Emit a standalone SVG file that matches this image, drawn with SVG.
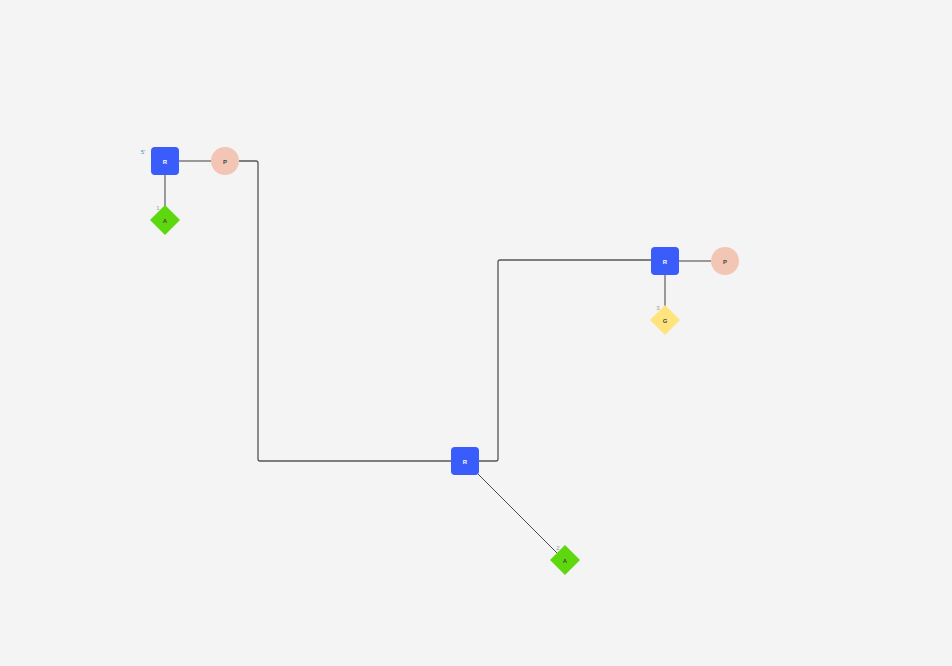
<svg xmlns="http://www.w3.org/2000/svg" width="952" height="666" viewBox="0 0 952 666">
<style>
.bg{fill:#f4f4f4}
.r{fill:#3a5cfb}
.p{fill:#f2c5b5}
.a{fill:#5dd80e}
.g{fill:#ffe47e}
.lbl{font-family:"Liberation Sans",Arial,sans-serif;font-size:6px;font-weight:bold;text-anchor:middle;dominant-baseline:central}
.w{fill:#ffffff}
.d{fill:#444444}
.num{font-family:"Liberation Sans",Arial,sans-serif;font-size:6px;fill:#999999;text-anchor:middle;dominant-baseline:central}
.link{fill:none;stroke:#999999;stroke-width:2}
.path{fill:none;stroke:#555555;stroke-width:1.3}
.diag{fill:none;stroke:#222222;stroke-width:0.8}
</style>
<rect class="bg" x="0" y="0" width="952" height="666"/>
<g id="connectors">
<line class="link" x1="179" y1="161" x2="211" y2="161"/>
<line class="link" x1="165" y1="175" x2="165" y2="206"/>
<line class="link" x1="679" y1="261" x2="711" y2="261"/>
<line class="link" x1="665" y1="275" x2="665" y2="306"/>
<path class="path" d="M239,161 H256 Q258,161 258,163 V459 Q258,461 260,461 H451"/>
<path class="path" d="M479,461 H496 Q498,461 498,459 V262 Q498,260 500,260 H651"/>
<line class="diag" x1="477" y1="473" x2="557" y2="553"/>
</g>
<g id="r1">
<rect class="r" x="151" y="147" width="28" height="28" rx="4"/>
<text class="lbl w" x="165" y="161.5">R</text>
<text class="num" x="143" y="152" style="fill:#3aa0b0">5'</text>
</g>
<g id="p1">
<circle class="p" cx="225" cy="161" r="14"/>
<text class="lbl d" x="225" y="161.5">P</text>
</g>
<g id="a1">
<polygon class="a" points="165,205 180,220 165,235 150,220"/>
<text class="lbl d" x="165" y="220.5">A</text>
<text class="num" x="158" y="208">1</text>
</g>
<g id="r2">
<rect class="r" x="651" y="247" width="28" height="28" rx="4"/>
<text class="lbl w" x="665" y="261.5">R</text>
</g>
<g id="p2">
<circle class="p" cx="725" cy="261" r="14"/>
<text class="lbl d" x="725" y="261.5">P</text>
</g>
<g id="g1">
<polygon class="g" points="665,305 680,320 665,335 650,320"/>
<text class="lbl d" x="665" y="320.5">G</text>
<text class="num" x="658" y="308">3</text>
</g>
<g id="r3">
<rect class="r" x="451" y="447" width="28" height="28" rx="4"/>
<text class="lbl w" x="465" y="461.5">R</text>
</g>
<g id="a2">
<polygon class="a" points="565,545 580,560 565,575 550,560"/>
<text class="lbl d" x="565" y="560.5">A</text>
<text class="num" x="558" y="548">2</text>
</g>
</svg>
